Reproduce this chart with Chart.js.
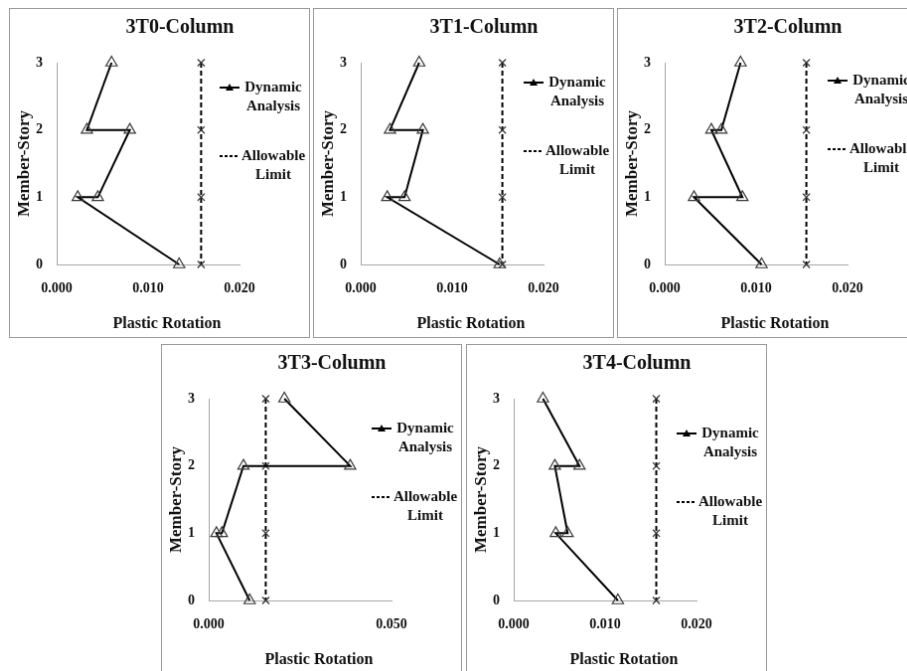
<!DOCTYPE html>
<html>
<head>
<meta charset="utf-8">
<script src="https://cdn.jsdelivr.net/npm/chart.js@4.4.1/dist/chart.umd.min.js"></script>
<style>
  body { margin: 0; width: 907px; height: 671px; overflow: hidden; background: #fff; position: relative; }
  canvas.panel { position: absolute; border: 1px solid #9a9a9a; background: #fff; }
</style>
</head>
<body>
<canvas id="c0" class="panel" width="301" height="330"></canvas>
<canvas id="c1" class="panel" width="301" height="330"></canvas>
<canvas id="c2" class="panel" width="301" height="330"></canvas>
<canvas id="c3" class="panel" width="301" height="330"></canvas>
<canvas id="c4" class="panel" width="301" height="330"></canvas>
<script>
// member-story visited by the dynamic analysis path (top to bottom)
const storyPath = [3, 2, 2, 1, 1, 0];
const limitStories = [3, 2, 1, 0];

const rotation3T0 = [0.0060, 0.0033, 0.0080, 0.0045, 0.0023, 0.0134];
const rotation3T1 = [0.0064, 0.0032, 0.0068, 0.0048, 0.0029, 0.0152];
const rotation3T2 = [0.0083, 0.0062, 0.0051, 0.0085, 0.0032, 0.0106];
const rotation3T3 = [0.0207, 0.0387, 0.0095, 0.0036, 0.0021, 0.0112];
const rotation3T4 = [0.0032, 0.0072, 0.0045, 0.0059, 0.0046, 0.0114];

const limit3T0 = [0.0158, 0.0158, 0.0158, 0.0158];
const limit3T1 = [0.0155, 0.0155, 0.0155, 0.0155];
const limit3T2 = [0.0155, 0.0155, 0.0155, 0.0155];
const limit3T3 = [0.0156, 0.0156, 0.0156, 0.0156];
const limit3T4 = [0.0156, 0.0156, 0.0156, 0.0156];

const ticksNarrow = [0, 0.010, 0.020];
const ticksWide = [0, 0.050];
const storyTicks = [0, 1, 2, 3];

const panels = [
    { id: 'c0', title: '3T0-Column', rot: rotation3T0, limit: limit3T0, ticks: ticksNarrow, left: 9, top: 8, legendY: 79 },
    { id: 'c1', title: '3T1-Column', rot: rotation3T1, limit: limit3T1, ticks: ticksNarrow, left: 313, top: 8, legendY: 74 },
    { id: 'c2', title: '3T2-Column', rot: rotation3T2, limit: limit3T2, ticks: ticksNarrow, left: 617, top: 8, legendY: 72 },
    { id: 'c3', title: '3T3-Column', rot: rotation3T3, limit: limit3T3, ticks: ticksWide, left: 161, top: 344, legendY: 84 },
    { id: 'c4', title: '3T4-Column', rot: rotation3T4, limit: limit3T4, ticks: ticksNarrow, left: 466, top: 344, legendY: 89 }
];

const FONT = '"Liberation Serif", "Times New Roman", serif';
const INK = '#111';

// title, x axis caption and the side legend
const panelText = {
    id: 'panelText',
    afterDraw(chart, args, opts) {
        const ctx = chart.ctx;
        ctx.save();
        ctx.fillStyle = INK;
        ctx.textAlign = 'center';
        ctx.textBaseline = 'middle';
        ctx.font = 'bold 20px ' + FONT;
        ctx.fillText(opts.title, 171, 19);
        ctx.font = 'bold 16px ' + FONT;
        ctx.fillText('Plastic Rotation', 158, 317);

        ctx.font = 'bold 15px ' + FONT;
        chart.data.datasets.forEach((ds, i) => {
            const y = opts.legendY + i * 69;
            const words = ds.label.split(' ');
            ctx.fillText(words[0], 265, y);
            ctx.fillText(words[1], 265, y + 19);

            ctx.strokeStyle = '#000';
            ctx.lineWidth = 2;
            ctx.setLineDash(ds.borderDash ? [3, 2] : []);
            ctx.beginPath();
            ctx.moveTo(211, y);
            ctx.lineTo(231, y);
            ctx.stroke();
            ctx.setLineDash([]);
            if (!ds.borderDash) {
                ctx.fillStyle = '#000';
                ctx.beginPath();
                ctx.moveTo(221, y - 4);
                ctx.lineTo(225, y + 3);
                ctx.lineTo(217, y + 3);
                ctx.closePath();
                ctx.fill();
                ctx.fillStyle = INK;
            }
        });
        ctx.restore();
    }
};

function makeChart(p) {
    const canvas = document.getElementById(p.id);
    canvas.style.left = p.left + 'px';
    canvas.style.top = p.top + 'px';

    const xMax = p.ticks[p.ticks.length - 1];

    return new Chart(canvas, {
        type: 'scatter',
        data: {
            datasets: [
                {
                    label: 'Dynamic Analysis',
                    data: p.rot.map((v, i) => ({ x: v, y: storyPath[i] })),
                    showLine: true,
                    borderColor: '#000',
                    borderWidth: 2,
                    pointStyle: 'triangle',
                    pointRadius: 6.5,
                    pointBorderColor: '#3a3a3a',
                    pointBorderWidth: 1.2,
                    pointBackgroundColor: 'rgba(255,255,255,0)',
                    clip: false
                },
                {
                    label: 'Allowable Limit',
                    data: p.limit.map((v, i) => ({ x: v, y: limitStories[i] })),
                    showLine: true,
                    borderColor: '#000',
                    borderWidth: 2,
                    borderDash: [5, 3],
                    pointStyle: 'crossRot',
                    pointRadius: 5,
                    pointBorderColor: '#333',
                    pointBorderWidth: 1.2,
                    clip: false
                }
            ]
        },
        options: {
            responsive: false,
            animation: false,
            events: [],
            layout: { padding: { left: 0, top: 54, right: 70, bottom: 0 } },
            plugins: {
                legend: { display: false },
                tooltip: { enabled: false },
                panelText: { title: p.title, legendY: p.legendY }
            },
            scales: {
                x: {
                    type: 'linear',
                    min: 0,
                    max: xMax,
                    grid: { display: false, drawTicks: false, tickLength: 0 },
                    border: { display: true, color: '#a0a0a0', width: 1 },
                    afterBuildTicks: s => { s.ticks = p.ticks.map(v => ({ value: v })); },
                    afterFit: s => { s.height = 73; },
                    ticks: {
                        padding: 16,
                        color: INK,
                        font: { family: FONT, size: 14, weight: 'bold' },
                        maxRotation: 0,
                        autoSkip: false,
                        callback: v => v.toFixed(3)
                    }
                },
                y: {
                    type: 'linear',
                    min: 0,
                    max: 3,
                    grid: { display: false, drawTicks: false, tickLength: 0 },
                    border: { display: true, color: '#a0a0a0', width: 1 },
                    afterBuildTicks: s => { s.ticks = storyTicks.map(v => ({ value: v })); },
                    afterFit: s => { s.width = 47; },
                    ticks: {
                        padding: 14,
                        color: INK,
                        font: { family: FONT, size: 14, weight: 'bold' },
                        callback: v => String(v)
                    },
                    title: {
                        display: true,
                        text: 'Member-Story',
                        color: INK,
                        font: { family: FONT, size: 17, weight: 'bold' },
                        padding: { top: 4, bottom: 0 }
                    }
                }
            }
        },
        plugins: [panelText]
    });
}

panels.forEach(makeChart);
</script>
</body>
</html>
